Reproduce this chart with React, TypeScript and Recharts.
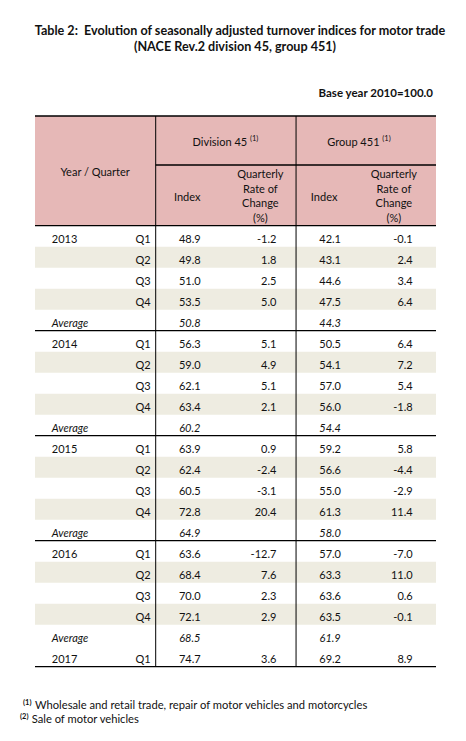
import React from 'react';
import {
  ScatterChart,
  Scatter,
  XAxis,
  YAxis,
  ReferenceArea,
  ReferenceLine,
  Surface,
} from 'recharts';

// Table data
const years = ['2013', '2014', '2015', '2016', '2017'];
const quarters = ['Q1', 'Q2', 'Q3', 'Q4'];
const quartersPerYear = [4, 4, 4, 4, 1];

const div45Index = [48.9, 49.8, 51.0, 53.5, 56.3, 59.0, 62.1, 63.4, 63.9, 62.4, 60.5, 72.8, 63.6, 68.4, 70.0, 72.1, 74.7];
const div45Rate = [-1.2, 1.8, 2.5, 5.0, 5.1, 4.9, 5.1, 2.1, 0.9, -2.4, -3.1, 20.4, -12.7, 7.6, 2.3, 2.9, 3.6];
const grp451Index = [42.1, 43.1, 44.6, 47.5, 50.5, 54.1, 57.0, 56.0, 59.2, 56.6, 55.0, 61.3, 57.0, 63.3, 63.6, 63.5, 69.2];
const grp451Rate = [-0.1, 2.4, 3.4, 6.4, 6.4, 7.2, 5.4, -1.8, 5.8, -4.4, -2.9, 11.4, -7.0, 11.0, 0.6, -0.1, 8.9];

const div45Average = [50.8, 60.2, 64.9, 68.5];
const grp451Average = [44.3, 54.4, 58.0, 61.9];

// years closed by a rule under their average row
const ruledYears = ['2013', '2014', '2015'];

const FONT = 'Lato, "Noto Sans", sans-serif';
const INK = '#111';
const HEADER_FILL = '#E6B8B7';
const BAND_FILL = '#EEECE1';
const CELL_SIZE = 11;

// layout in table units: x is percent of table width, y is in rows
const HEADER_ROWS = 5.224;
const BASELINE = 0.83;
const COL = {
  year: 4.2,
  quarter: 28.85,
  divider1: 30.1,
  divIdx: 38.6,
  divRate: 60.2,
  divider2: 65.1,
  grpIdx: 73.6,
  grpRate: 94.2,
};

interface Row {
  label?: string;
  quarter?: string;
  divIdx: number;
  divRate?: number;
  grpIdx: number;
  grpRate?: number;
  average: boolean;
  shaded: boolean;
  ruled: boolean;
}

const rows: Row[] = [];
let k = 0;
years.forEach((year, yi) => {
  for (let q = 0; q < quartersPerYear[yi]; q++) {
    rows.push({
      label: q === 0 ? year : undefined,
      quarter: quarters[q],
      divIdx: div45Index[k],
      divRate: div45Rate[k],
      grpIdx: grp451Index[k],
      grpRate: grp451Rate[k],
      average: false,
      shaded: q % 2 === 1,
      ruled: false,
    });
    k++;
  }
  if (yi < div45Average.length) {
    rows.push({
      label: 'Average',
      divIdx: div45Average[yi],
      grpIdx: grp451Average[yi],
      average: true,
      shaded: false,
      ruled: ruledYears.includes(year),
    });
  }
});

interface Cell {
  x: number;
  y: number;
  text: string;
  anchor: 'start' | 'middle' | 'end';
  italic?: boolean;
  sup?: string;
}

const fmt = (v: number) => v.toFixed(1);

const bodyCells: Cell[] = [];
rows.forEach((r, i) => {
  const y = i + BASELINE;
  if (r.label) bodyCells.push({ x: COL.year, y, text: r.label, anchor: 'start', italic: r.average });
  if (r.quarter) bodyCells.push({ x: COL.quarter, y, text: r.quarter, anchor: 'end' });
  bodyCells.push({ x: COL.divIdx, y, text: fmt(r.divIdx), anchor: 'middle', italic: r.average });
  bodyCells.push({ x: COL.grpIdx, y, text: fmt(r.grpIdx), anchor: 'middle', italic: r.average });
  if (r.divRate !== undefined) bodyCells.push({ x: COL.divRate, y, text: fmt(r.divRate), anchor: 'end' });
  if (r.grpRate !== undefined) bodyCells.push({ x: COL.grpRate, y, text: fmt(r.grpRate), anchor: 'end' });
});

const rateHeading = ['Quarterly', 'Rate of', 'Change', '(%)'];
const rateLineY = [-2.257, -1.57, -0.876, -0.19];

const headerCells: Cell[] = [
  { x: 47.5, y: -3.795, text: 'Division 45 ', anchor: 'middle', sup: '(1)' },
  { x: 80.8, y: -3.795, text: 'Group 451 ', anchor: 'middle', sup: '(1)' },
  { x: 15.0, y: -2.38, text: 'Year / Quarter', anchor: 'middle' },
  { x: 37.95, y: -1.19, text: 'Index', anchor: 'middle' },
  { x: 72.1, y: -1.19, text: 'Index', anchor: 'middle' },
  ...rateHeading.map((t, i) => ({ x: 56.2, y: rateLineY[i], text: t, anchor: 'middle' as const })),
  ...rateHeading.map((t, i) => ({ x: 89.5, y: rateLineY[i], text: t, anchor: 'middle' as const })),
];

const CellText = (props: any) => {
  const { cx, cy, payload } = props;
  const c = payload as Cell;
  return (
    <text
      x={cx}
      y={cy}
      textAnchor={c.anchor}
      fontFamily={FONT}
      fontSize={CELL_SIZE}
      fontStyle={c.italic ? 'italic' : 'normal'}
      fill={INK}
    >
      {c.text}
      {c.sup && (
        <tspan fontSize={7.5} dy={-5}>
          {c.sup}
        </tspan>
      )}
    </text>
  );
};

const shadedRows = rows.map((r, i) => (r.shaded ? i : -1)).filter((i) => i >= 0);
const ruleRows = rows.map((r, i) => (r.ruled ? i + 1 : -1)).filter((i) => i >= 0);

export default function App() {
  const rule = { stroke: '#000', strokeWidth: 1.3, ifOverflow: 'visible' as const };
  return (
    <div style={{ position: 'absolute', left: 0, top: 0, width: 466, height: 741, background: '#fff' }}>
      <ScatterChart
        width={466}
        height={741}
        margin={{ top: 116, right: 30, bottom: 74.3, left: 35 }}
      >
        <XAxis type="number" dataKey="x" domain={[0, 100]} hide allowDataOverflow />
        <YAxis
          type="number"
          dataKey="y"
          domain={[-HEADER_ROWS, rows.length]}
          reversed
          hide
          allowDataOverflow
        />
        <ReferenceArea x1={0} x2={100} y1={-HEADER_ROWS} y2={0} fill={HEADER_FILL} fillOpacity={1} stroke="none" />
        {shadedRows.map((i) => (
          <ReferenceArea key={i} x1={0} x2={100} y1={i} y2={i + 1} fill={BAND_FILL} fillOpacity={1} stroke="none" />
        ))}
        <ReferenceLine y={-HEADER_ROWS} {...rule} />
        <ReferenceLine
          segment={[{ x: COL.divider1, y: -2.89 }, { x: 100, y: -2.89 }]}
          {...rule}
        />
        <ReferenceLine y={0} {...rule} />
        {ruleRows.map((i) => (
          <ReferenceLine key={i} y={i} {...rule} />
        ))}
        <ReferenceLine y={rows.length} {...rule} />
        <ReferenceLine x={COL.divider1} stroke="#000" strokeWidth={1} />
        <ReferenceLine x={COL.divider2} stroke="#000" strokeWidth={1} />
        <Scatter data={headerCells} shape={CellText} isAnimationActive={false} />
        <Scatter data={bodyCells} shape={CellText} isAnimationActive={false} />
      </ScatterChart>
      <Surface
        width={466}
        height={741}
        viewBox={{ x: 0, y: 0, width: 466, height: 741 }}
        style={{ position: 'absolute', left: 0, top: 0, pointerEvents: 'none' }}
      >
        <g fontFamily={FONT} fill={INK}>
          <text x={240} y={34.7} textAnchor="middle" fontSize={12.6} fontWeight="bold">
            {'Table 2:\u00a0 Evolution of seasonally adjusted turnover indices for motor trade'}
          </text>
          <text x={235} y={50.5} textAnchor="middle" fontSize={12.6} fontWeight="bold">
            (NACE Rev.2 division 45, group 451)
          </text>
          <text x={433} y={96.7} textAnchor="end" fontSize={11.5} fontWeight="bold">
            Base year 2010=100.0
          </text>
          <text x={23} y={709} fontSize={11.2}>
            <tspan fontSize={7.5} fontWeight="bold" dy={-4}>(1)</tspan>
            <tspan x={35} dy={4}>Wholesale and retail trade, repair of motor vehicles and motorcycles</tspan>
          </text>
          <text x={20} y={723.3} fontSize={11.2}>
            <tspan fontSize={7.5} fontWeight="bold" dy={-4}>(2)</tspan>
            <tspan x={31.7} dy={4}>Sale of motor vehicles</tspan>
          </text>
        </g>
      </Surface>
    </div>
  );
}
